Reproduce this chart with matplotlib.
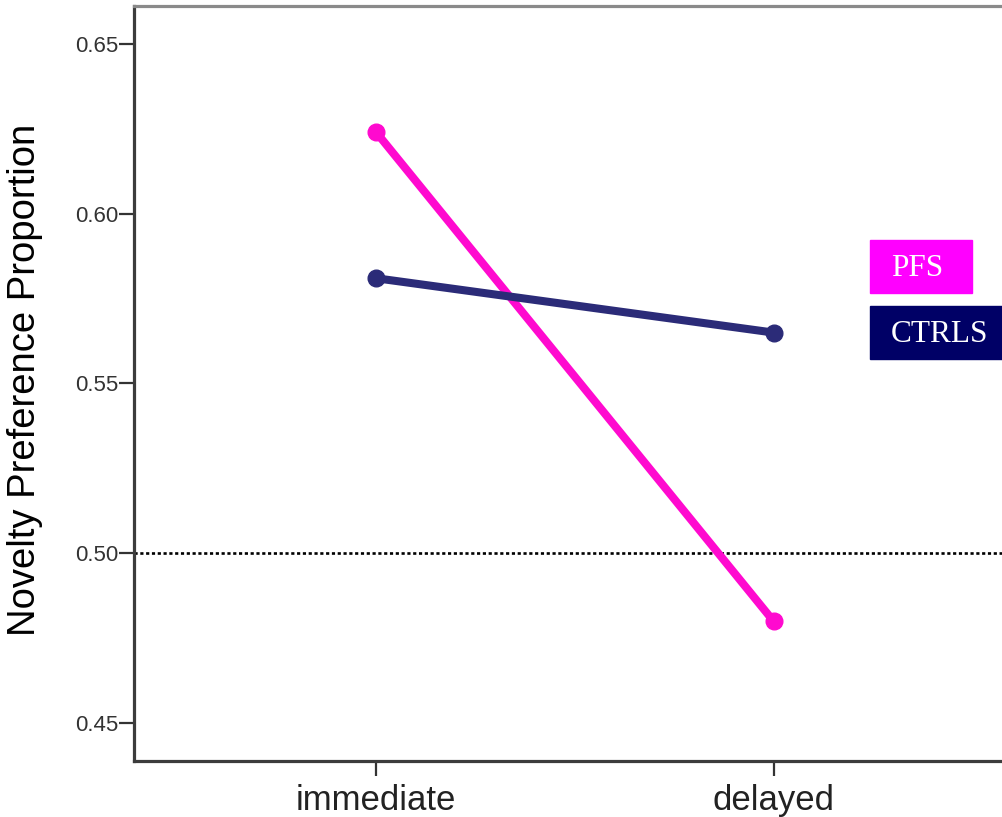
import matplotlib
matplotlib.use("Agg")
import matplotlib.pyplot as plt
from matplotlib.patches import Rectangle

# data
times = ['immediate', 'delayed']
groups = ['PFS', 'CTRLS']
pfs = [0.624, 0.480]
ctrls = [0.581, 0.565]
chance = 0.50
yticks = [0.45, 0.50, 0.55, 0.60, 0.65]

line_cols = ['#FF0ACF', '#2B2B78']
box_cols = ['#FF00FF', '#000066']

fig = plt.figure(figsize=(10.02, 8.17), dpi=100)
ax = fig.add_axes([0.1337, 0.0685, 0.88, 0.9242])

x = list(range(len(times)))
for vals, col in zip([pfs, ctrls], line_cols):
    ax.plot(x, vals, color=col, lw=5.8, marker='o', ms=12,
            solid_capstyle='round', zorder=3)

ax.axhline(chance, color='black', ls=(0, (1.2, 1.0)), lw=1.9, zorder=2)

ax.set_xlim(-0.6096, 1.6096)
ax.set_ylim(0.4388, 0.6612)
ax.set_xticks(x)
ax.set_xticklabels(times, fontsize=25, fontfamily='Liberation Sans', color='#222222')
ax.set_yticks(yticks)
ax.set_yticklabels(['%.2f' % v for v in yticks], fontsize=16,
                   fontfamily='Liberation Sans', color='#333333')
ax.tick_params(axis='both', direction='out', length=10.5, width=1.6, color='#333333')
ax.tick_params(axis='y', pad=1)
ax.tick_params(axis='x', pad=6)

ax.set_ylabel('Novelty Preference Proportion', fontsize=27.5,
              fontfamily='Liberation Sans')
ax.yaxis.set_label_coords(-0.103, 0.505)

ax.spines['right'].set_visible(False)
ax.spines['left'].set_color('#3c3c3c')
ax.spines['left'].set_linewidth(2.3)
ax.spines['bottom'].set_color('#3c3c3c')
ax.spines['bottom'].set_linewidth(2.3)
ax.spines['top'].set_color('#8a8a8a')
ax.spines['top'].set_linewidth(2.3)

# legend boxes on the right, in pixel positions of the figure
W, H = 1002, 817
boxes = [(870, 240, 102, 53), (870, 306, 132, 53)]
for name, col, (bx, by, bw, bh) in zip(groups, box_cols, boxes):
    fig.patches.append(Rectangle((bx / W, 1 - (by + bh) / H), bw / W, bh / H,
                                 transform=fig.transFigure, color=col, zorder=5))
    fig.text((bx + 21) / W, 1 - (by + bh / 2 + 2) / H, name, color='white',
             fontsize=22.5, fontfamily='Liberation Serif', va='center', ha='left', zorder=6)

fig.savefig('out.png', dpi=100)
